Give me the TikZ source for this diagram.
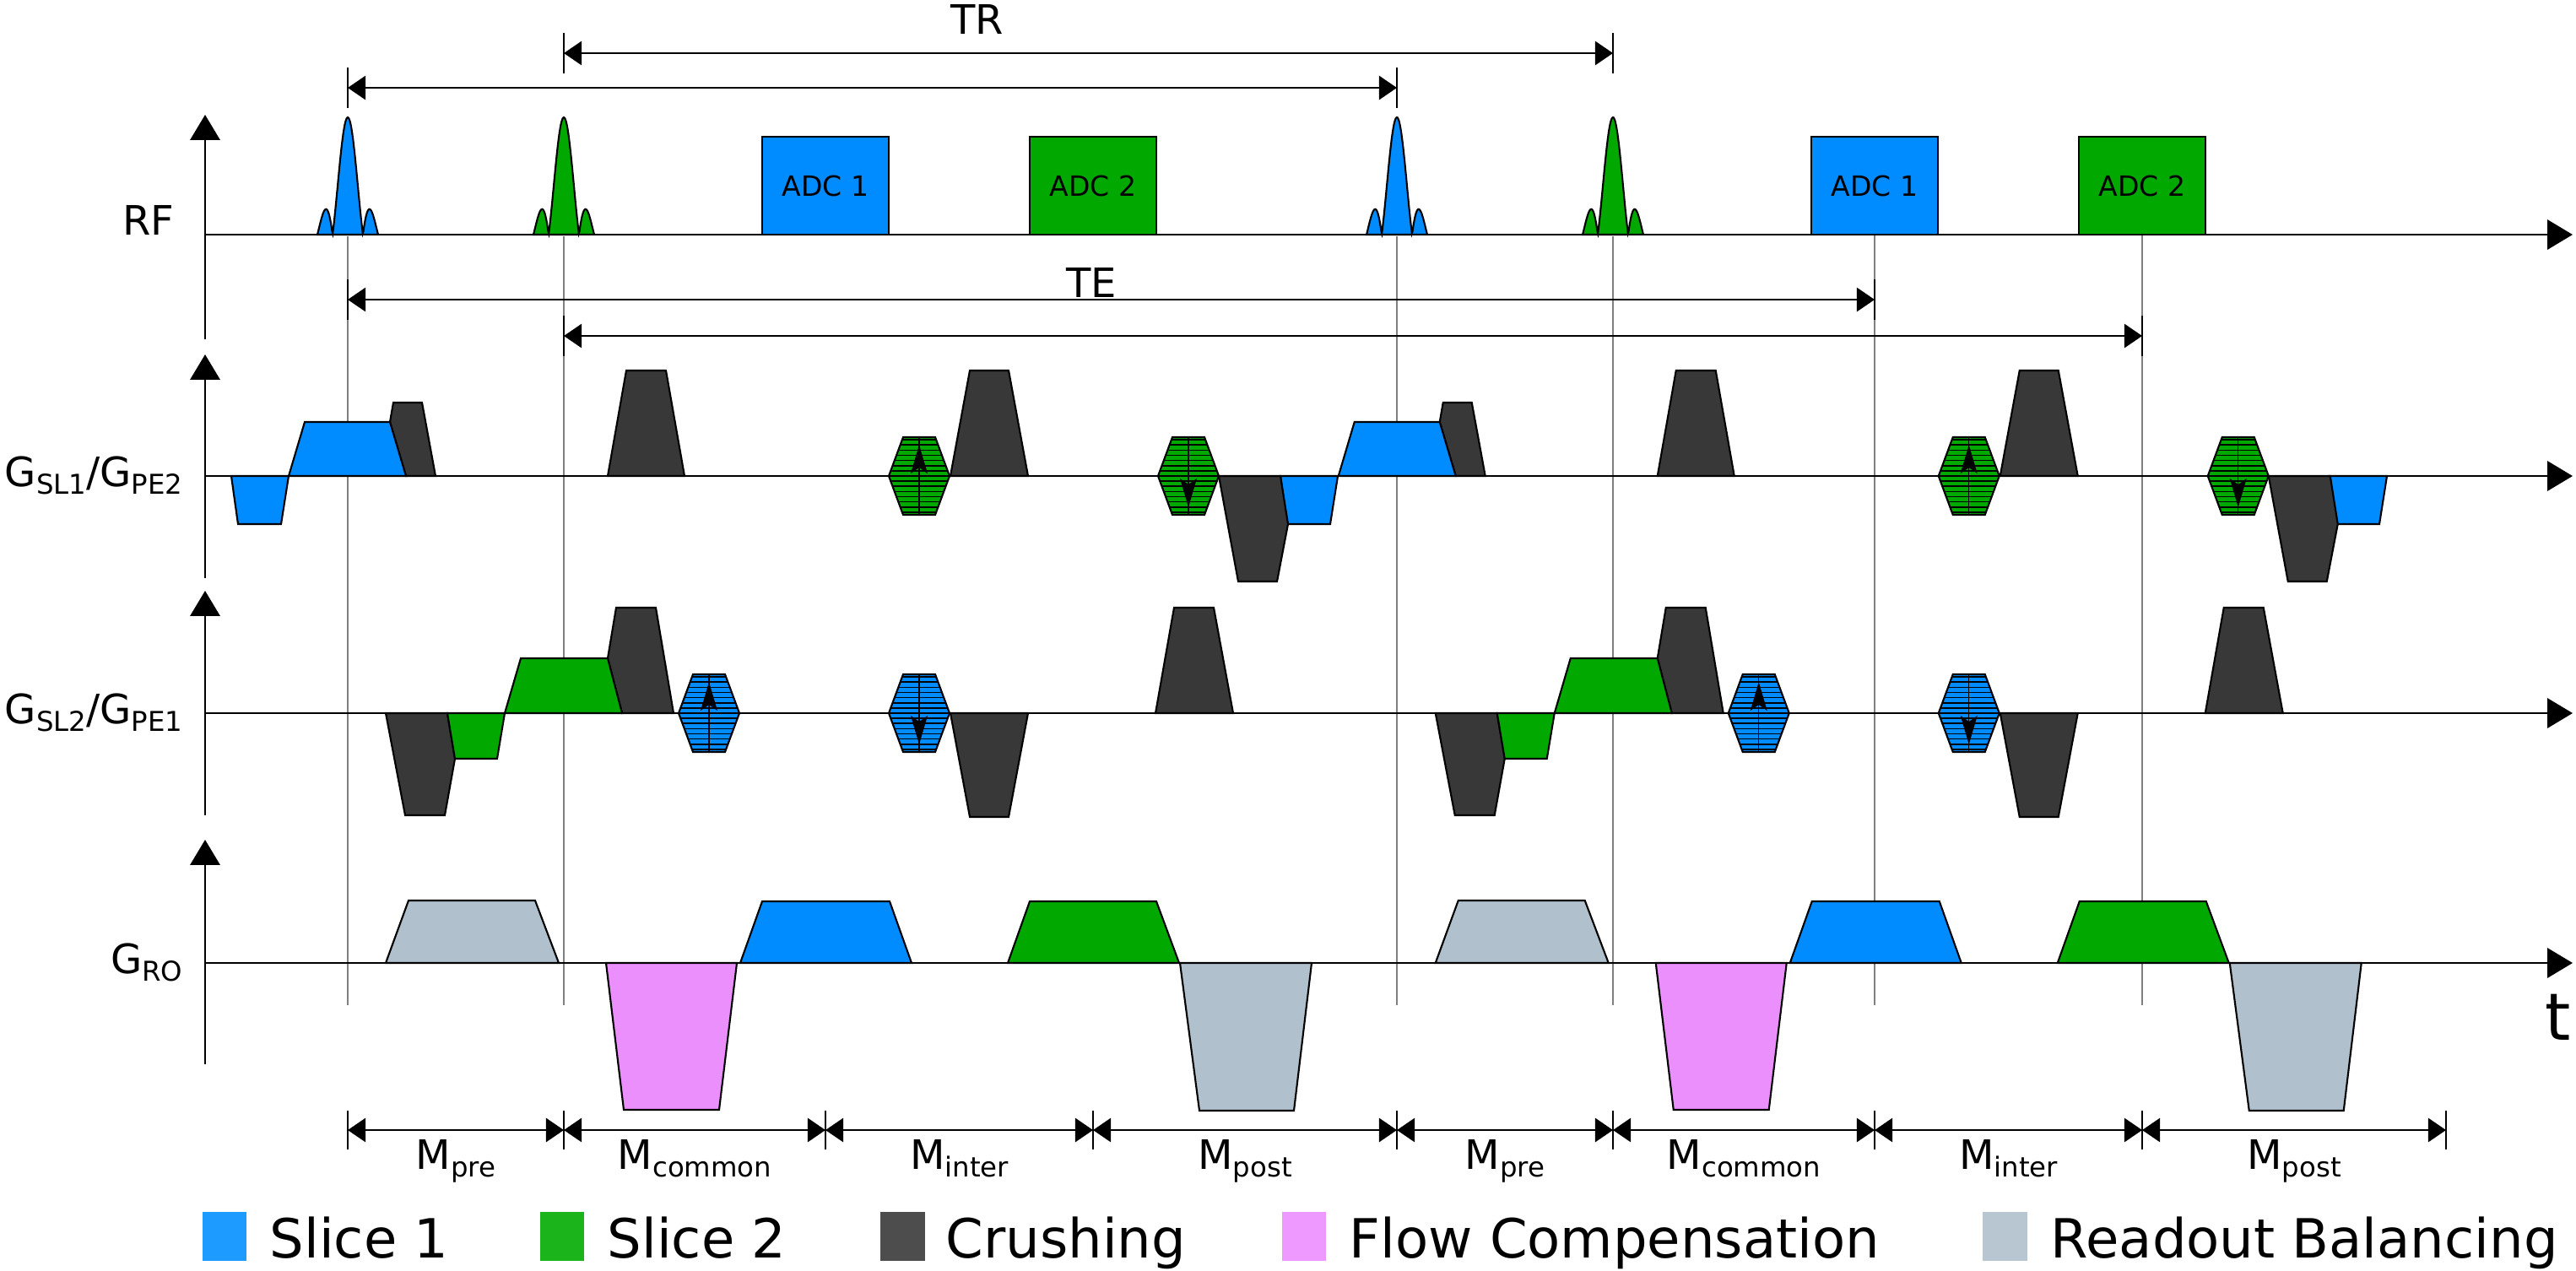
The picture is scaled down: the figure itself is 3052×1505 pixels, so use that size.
\documentclass[tikz,border=0pt]{standalone}
\usepackage{fontspec}
\setmainfont{DejaVu Sans}
\usetikzlibrary{arrows.meta,calc}
\definecolor{slblue}{RGB}{0,140,255}
\definecolor{slgreen}{RGB}{0,168,0}
\definecolor{crush}{RGB}{56,56,56}
\definecolor{flowpink}{RGB}{235,143,252}
\definecolor{rbal}{RGB}{176,192,204}
\definecolor{lgblue}{RGB}{29,155,255}
\definecolor{lggreen}{RGB}{27,180,27}
\definecolor{lgcrush}{RGB}{77,77,77}
\definecolor{lgpink}{RGB}{238,153,255}
\definecolor{lgrbal}{RGB}{184,198,210}
\definecolor{guidegray}{RGB}{128,128,128}
\newcommand\lowsub[1]{\raisebox{-0.2em}{\fontsize{9.2}{10}\selectfont #1}}
\tikzset{
  ax/.style={line width=0.75pt, -{Triangle[length=8.5pt,width=10pt]}},
  dim/.style={line width=0.75pt, {Triangle[length=6pt,width=8pt]}-{Triangle[length=6pt,width=8pt]}},
  tickln/.style={line width=0.5pt},
  guide/.style={line width=0.45pt, draw=guidegray},
  shp/.style={draw=black, line width=0.6pt, line join=miter},
  lab/.style={inner sep=0pt, font=\fontsize{13.66}{16}\selectfont},
  adcbox/.style={draw=black, line width=0.6pt, minimum width=1.5cm, minimum height=1.16cm, inner sep=0pt, font=\fontsize{9.4}{11}\selectfont},
  legtxt/.style={inner sep=0pt, anchor=base west, font=\fontsize{18.2}{22}\selectfont},
}
\newcommand\rfpulse[2]{%
  \filldraw[shp, fill=#2] plot[domain=-2:2, samples=100]
    ({#1+18*\x},{278-139*abs(sin(180*\x))/(abs(3.14159*\x)+0.00001)}) -- cycle;}
\newcommand\pehex[4]{%
  \begin{scope}
    \clip ({#1-36},#2) -- ({#1-19},{#2-46}) -- ({#1+19},{#2-46}) -- ({#1+36},#2) -- ({#1+19},{#2+46}) -- ({#1-19},{#2+46}) -- cycle;
    \fill[#3] ({#1-40},{#2-50}) rectangle ({#1+40},{#2+50});
    \foreach \k in {-7,...,7} \draw[line width=0.45pt] ({#1-40},{#2+(\k)*6.13}) -- ({#1+40},{#2+(\k)*6.13});
  \end{scope}
  \draw[shp] ({#1-36},#2) -- ({#1-19},{#2-46}) -- ({#1+19},{#2-46}) -- ({#1+36},#2) -- ({#1+19},{#2+46}) -- ({#1-19},{#2+46}) -- cycle;
  \draw[line width=0.4pt] (#1,{#2-46}) -- (#1,{#2+46});
  \fill (#1,{#2+37*(#4)}) -- ({#1-10},{#2+3*(#4)}) -- (#1,{#2+10*(#4)}) -- ({#1+10},{#2+3*(#4)}) -- cycle;
}
\newcommand\periodshapes{%
  % G_SL1 / G_PE2
  \filldraw[shp,fill=crush] (462,500) -- (466,477) -- (500,477) -- (516,564) -- (481,564) -- cycle;
  \filldraw[shp,fill=slblue] (342,564) -- (361,500) -- (462,500) -- (481,564) -- cycle;
  \filldraw[shp,fill=crush] (720,564) -- (742,439) -- (789,439) -- (811,564) -- cycle;
  \pehex{1089}{564}{slgreen}{-1}
  \filldraw[shp,fill=crush] (1126,564) -- (1149,439) -- (1195,439) -- (1218,564) -- cycle;
  \pehex{1408}{564}{slgreen}{1}
  \filldraw[shp,fill=crush] (1444,564) -- (1467,689) -- (1513,689) -- (1526,621) -- (1517,564) -- cycle;
  % G_SL2 / G_PE1
  \filldraw[shp,fill=crush] (457,845) -- (480,966) -- (527,966) -- (539,899) -- (530,845) -- cycle;
  \filldraw[shp,fill=slgreen] (530,845) -- (539,899) -- (589,899) -- (598,845) -- cycle;
  \filldraw[shp,fill=crush] (720,780) -- (730,720) -- (777,720) -- (798,845) -- (737,845) -- cycle;
  \filldraw[shp,fill=slgreen] (598,845) -- (617,780) -- (720,780) -- (737,845) -- cycle;
  \pehex{840}{845}{slblue}{-1}
  \pehex{1089}{845}{slblue}{1}
  \filldraw[shp,fill=crush] (1126,845) -- (1149,968) -- (1195,968) -- (1218,845) -- cycle;
  \filldraw[shp,fill=crush] (1369,845) -- (1391,720) -- (1438,720) -- (1461,845) -- cycle;
  % G_RO
  \filldraw[shp,fill=rbal] (457,1141) -- (484,1067) -- (634,1067) -- (662,1141) -- cycle;
  \filldraw[shp,fill=flowpink] (718,1141) -- (739,1315) -- (852,1315) -- (873,1141) -- cycle;
  \filldraw[shp,fill=slblue] (877,1141) -- (903,1068) -- (1054,1068) -- (1080,1141) -- cycle;
  \filldraw[shp,fill=slgreen] (1194,1141) -- (1220,1068) -- (1370,1068) -- (1397,1141) -- cycle;
  \filldraw[shp,fill=rbal] (1398,1141) -- (1421,1316) -- (1533,1316) -- (1554,1141) -- cycle;
}
\begin{document}
\begin{tikzpicture}[x=0.01cm,y=-0.01cm]
\useasboundingbox (0,0) rectangle (3052,1505);
% guide lines
\foreach \gx/\gy in {412/280,668/280,1655/280,1911/280,2221/278,2538/278}
  \draw[guide] (\gx,\gy) -- (\gx,1191);
% axes
\foreach \ya/\yb/\yc in {278/136/402, 564/420/685, 845/700/966, 1141/995/1261} {
  \draw[ax] (243,\yc) -- (243,\yb);
  \draw[ax] (243,\ya) -- (3048,\ya);
}
% axis labels
\node[lab, anchor=base east] (lrf) at (207,278) {RF};
\node[lab, anchor=base east] (lsl1) at (217,576) {G\lowsub{SL1}/G\lowsub{PE2}};
\node[lab, anchor=base east] (lsl2) at (217,857) {G\lowsub{SL2}/G\lowsub{PE1}};
\node[lab, anchor=base east] (lro) at (217,1153) {G\lowsub{RO}};
\node[inner sep=0pt, anchor=base, font=\fontsize{22}{26}\selectfont] (lt) at (3031,1232) {t};
% RF pulses
\rfpulse{412}{slblue}
\rfpulse{668}{slgreen}
\rfpulse{1655}{slblue}
\rfpulse{1911}{slgreen}
% ADC
\node[adcbox, fill=slblue] (adc1a) at (978,220) {ADC 1};
\node[adcbox, fill=slgreen] (adc2a) at (1295,220) {ADC 2};
\node[adcbox, fill=slblue] (adc1b) at (2221,220) {ADC 1};
\node[adcbox, fill=slgreen] (adc2b) at (2538,220) {ADC 2};
% gradient shapes
\foreach \s in {0,1243,2486}
  \filldraw[shp,fill=slblue] ({274+\s},564) -- ({282+\s},621) -- ({333+\s},621) -- ({342+\s},564) -- cycle;
\periodshapes
\begin{scope}[xshift=12.43cm]
\periodshapes
\end{scope}
% TR / TE dimension lines
\coordinate (tra) at (412,104); \coordinate (trb) at (1655,104);
\coordinate (trc) at (668,63); \coordinate (trd) at (1911,63);
\coordinate (tea) at (412,355); \coordinate (teb) at (2221,355);
\coordinate (tec) at (668,398); \coordinate (ted) at (2538,398);
\foreach \c in {tra,trb,trc,trd,tea,teb,tec,ted}
  \draw[tickln] ([yshift=0.24cm]\c) -- ([yshift=-0.24cm]\c);
\draw[dim] (tra) -- (trb);
\draw[dim] (trc) -- (trd);
\draw[dim] (tea) -- (teb);
\draw[dim] (tec) -- (ted);
\node[lab, anchor=base east] (ltr) at (1190,40) {TR};
\node[lab, anchor=base] (lte) at (1293,352) {TE};
% M segments
\foreach \n/\mx in {m0/412,m1/668,m2/978,m3/1295,m4/1655,m5/1911,m6/2221,m7/2538,m8/2898} {
  \coordinate (\n) at (\mx,1339);
  \draw[tickln] ([yshift=0.23cm]\n) -- ([yshift=-0.23cm]\n);
}
\foreach \a/\b/\t in {m0/m1/pre, m1/m2/common, m2/m3/inter, m3/m4/post, m4/m5/pre, m5/m6/common, m6/m7/inter, m7/m8/post} {
  \draw[dim] (\a) -- (\b);
  \node[lab, anchor=base] (lab\a) at ([yshift=-0.46cm]$(\a)!0.5!(\b)$) {M\lowsub{\t}};
}
% legend
\fill[lgblue] (240,1436) rectangle (292,1494);
\node[legtxt] (lg1) at (319,1490) {Slice 1};
\fill[lggreen] (640,1436) rectangle (692,1494);
\node[legtxt] (lg2) at (719,1490) {Slice 2};
\fill[lgcrush] (1043,1436) rectangle (1096,1494);
\node[legtxt] (lg3) at (1120,1490) {Crushing};
\fill[lgpink] (1519,1436) rectangle (1571,1494);
\node[legtxt] (lg4) at (1598,1490) {Flow Compensation};
\fill[lgrbal] (2349,1436) rectangle (2402,1494);
\node[legtxt] (lg5) at (2429,1490) {Readout Balancing};
\end{tikzpicture}
\end{document}
